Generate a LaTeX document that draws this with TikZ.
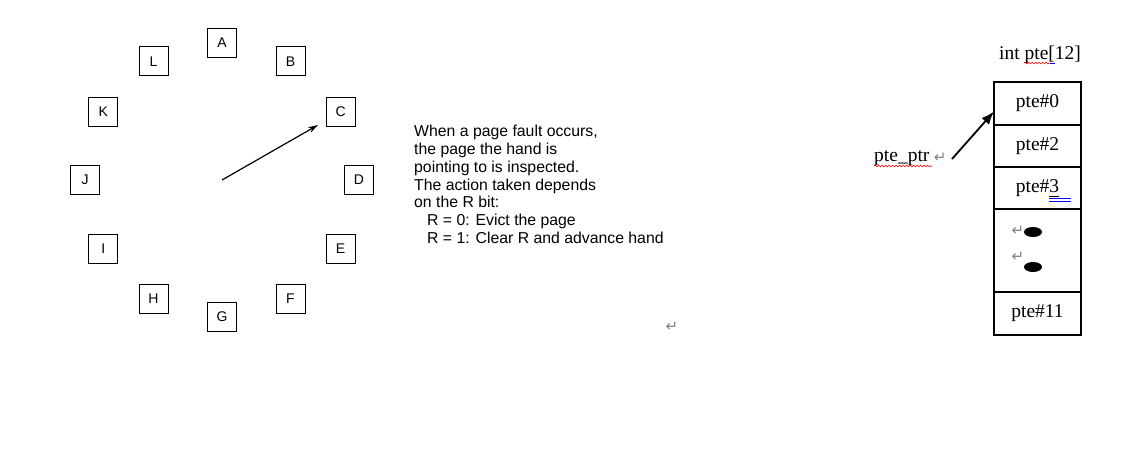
\documentclass[tikz,border=0pt]{standalone}
\usepackage{fontspec}
\setmainfont{Liberation Serif}
\newfontfamily\arialfont{Liberation Sans}
\newfontfamily\symbolfont{DejaVu Sans}
\usepackage{tikz}
\usetikzlibrary{decorations.pathmorphing}
\usetikzlibrary{positioning}
\usetikzlibrary{calc}
\usetikzlibrary{arrows.meta}

\begin{document}
\begin{tikzpicture}[x=1pt, y=-1pt,
    page/.style={draw=black, line width=1pt, minimum size=29pt, inner sep=0pt, font=\arialfont\fontsize{14}{14}\selectfont},
    slot/.style={draw=black, line width=2pt, minimum width=87pt, inner sep=0pt, outer sep=0pt, font=\fontsize{19.5}{19.5}\selectfont},
    retmark/.style={text=gray, inner sep=0pt, font=\symbolfont\fontsize{15}{15}\selectfont},
    squiggle/.style={red, line width=0.6pt, decorate, decoration={snake, amplitude=0.9pt, segment length=3.5pt}}]

        \useasboundingbox (0,0) rectangle (1141,464);

        % Hub of the clock
        \coordinate (hub) at (222,180);

        % Number of pages on the clock
        \def\npages{12}

        % Radius of the clock face
        \def\radius{137}

        % Pages placed round the hub, A at the top
        \foreach \letter [count=\i] in {A,B,C,D,E,F,G,H,I,J,K,L} {
          \node[page] (p\letter) at ([shift={({(\i-1)*360/\npages - 90}:\radius)}] hub) {\letter};
        }

        % The hand
        \coordinate (handtip) at (318,125);
        \draw[-{Stealth[length=10pt, width=6pt]}, line width=1.2pt] (hub) -- (handtip);

        % Explanation
        \node[anchor=north west, align=left, inner sep=0pt, font=\arialfont\fontsize{15.8}{17.8}\selectfont] (rule) at (414,125)
          {When a page fault occurs,\\
           the page the hand is\\
           pointing to is inspected.\\
           The action taken depends\\
           on the R bit:\\
           \hspace*{13pt}R = 0: Evict the page\\
           \hspace*{13pt}R = 1: Clear R and advance hand};
        \node[retmark] (endmark) at (672,327) {↵};

        % Page table entries
        \node[anchor=base, inner sep=0pt, font=\fontsize{19.5}{19.5}\selectfont] (arrname) at (1040,59) {int pte[12]};
        \node[slot, minimum height=43pt] (pte0) at (1037.5,103.5) {pte\#0};
        \node[slot, minimum height=42pt, below=0pt of pte0] (pte2) {pte\#2};
        \node[slot, minimum height=42pt, below=0pt of pte2] (pte3) {pte\#3};
        \node[slot, minimum height=83pt, below=0pt of pte3] (gap) {};
        \node[slot, minimum height=43pt, below=0pt of gap] (pte11) {pte\#11};

        % Dots in the gap
        \node[retmark] (ret1) at (1018,231) {↵};
        \node[retmark] (ret2) at (1018,257) {↵};
        \fill (1033,232) ellipse (9 and 5);
        \fill (1033,267) ellipse (9 and 5);

        % Pointer
        \node[anchor=base west, inner sep=0pt, font=\fontsize{19.5}{19.5}\selectfont] (ptr) at (874,161) {pte\_ptr};
        \node[retmark, right=4pt of ptr] (ptrret) {↵};
        \coordinate (ptrtail) at (952,159);
        \draw[-{Latex[length=13pt, width=10pt]}, line width=1.8pt] (ptrtail) -- ([yshift=-8pt]pte0.west);

        % Spelling marks
        \draw[squiggle] (1024,63) -- (1050,63);
        \draw[blue, line width=0.6pt] (1050,63) -- (1055,63);
        \draw[squiggle] (874,166) -- (932,166);
        \draw[line width=0.6pt] (1049,196) -- (1059,196);
        \draw[blue, line width=0.6pt] (1049,198.5) -- (1071,198.5);
        \draw[blue, line width=0.6pt] (1049,201) -- (1071,201);

      \end{tikzpicture}
\end{document}
